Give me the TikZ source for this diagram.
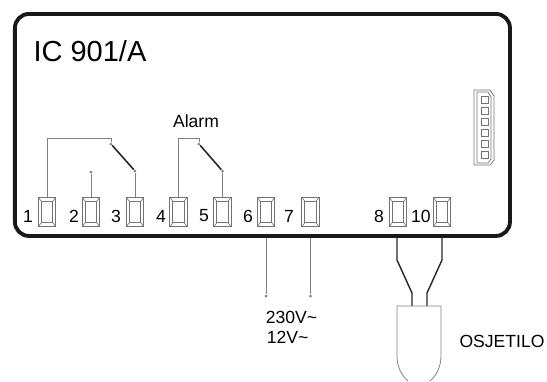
\documentclass[tikz,border=0pt]{standalone}
\usepackage{fontspec}
\setmainfont{Liberation Sans}
\usepackage{tikz}
\usetikzlibrary{positioning,calc}
\begin{document}
\begin{tikzpicture}[x=0.2mm,y=-0.2mm,inner sep=0pt]
  \tikzstyle{wire}=[draw=black!50,line width=0.35pt]
  \tikzstyle{lead}=[draw=black!85,line width=0.8pt]
  \tikzstyle{blade}=[draw=black!85,line width=0.9pt]
  \tikzstyle{tip}=[circle,fill=black!50,minimum size=0.6mm]
  \tikzstyle{lbl}=[font=\fontsize{10}{12}\selectfont]
  \tikzstyle{term}=[rectangle,draw=black!55,line width=0.35pt,minimum width=3.5mm,minimum height=5.9mm,
    path picture={
      \draw[black!55,line width=0.35pt] ($(path picture bounding box.south west)+(3,-4)$) rectangle ($(path picture bounding box.north east)+(-3,4)$);
      \foreach\c/\dx/\dy in{south west/3/-4,south east/-3/-4,north west/3/4,north east/-3/4}{
        \draw[black!55,line width=0.35pt] (path picture bounding box.\c) -- ++(\dx,\dy);}
    }]
  \useasboundingbox (0,0) rectangle (547,381);
  \node[draw=black!90,line width=2.2pt,rounded corners=2.8mm,minimum width=99mm,minimum height=44.4mm,anchor=north west](frame)at(13,12){};
  \node[font=\fontsize{16.5}{20}\selectfont](title)at(90,51){IC 901/A};
  \node[lbl](alarm)at(196,121){Alarm};
  % terminals and their numbers
  \foreach\n/\x/\l in{1/47/28,2/91/74,3/135/116,4/178.5/161,5/222.5/204,6/266/248,7/310.5/289,8/398/379,10/442/421}{
    \node[term](t\n)at(\x,212){};
    \node[lbl](n\n)at(\l,216){\n};
  }
  % relay contacts
  \coordinate(k1)at(111,138);
  \node[tip](a1)at(111,144){};
  \node[tip](b1)at(135,171){};
  \node[tip](c2)at(91,172){};
  \coordinate(k4)at(199,138);
  \node[tip](a4)at(199,144){};
  \node[tip](b4)at(222.5,171){};
  \draw[wire](t1.north)|-(k1)--(a1);
  \draw[wire](t3.north)--(b1);
  \draw[wire](t2.north)--(c2);
  \draw[wire](t4.north)|-(k4)--(a4);
  \draw[wire](t5.north)--(b4);
  \draw[blade](a1)--(b1);
  \draw[blade](a4)--(b4);
  % supply
  \node[tip](s6)at(266,296){};
  \node[tip](s7)at(310.5,296){};
  \draw[wire](s6|-frame.south)--(s6);
  \draw[wire](s7|-frame.south)--(s7);
  \node[lbl,anchor=west](v1)at(265.5,317){230V\symbol{"007E}};
  \node[lbl,anchor=west](v2)at(266.5,337){12V\symbol{"007E}};
  % probe
  \coordinate(p8)at(397,306);
  \coordinate(p10)at(442,306);
  \coordinate(q8)at(412,306);
  \coordinate(q10)at(427,306);
  \draw[lead](p8|-frame.south)--(397,260)--(412,293)--(q8);
  \draw[lead](p10|-frame.south)--(442,260)--(427,293)--(q10);
  \draw[wire,line width=0.45pt](430,381).. controls (437,375) and (441,366) ..(441,356)--(441,306)--(397,306)--(397,356).. controls (397,366) and (401,375) ..(408,381);
  \node[lbl](sensor)at(502,341){OSJETILO};
  % display connector
  \draw[black!55,line width=0.4pt](474,90)--(490,90)--(494,96)--(494,160)--(490,165)--(474,165)--cycle;
  \draw[black!55,line width=0.4pt](477,92)--(488,92)--(491,97)--(491,159)--(488,163)--(477,163)--cycle;
  \foreach\i in{0,...,5}{\draw[black!55,line width=0.4pt](481,96+\i*11.1)rectangle++(7,7);}
\end{tikzpicture}
\end{document}
